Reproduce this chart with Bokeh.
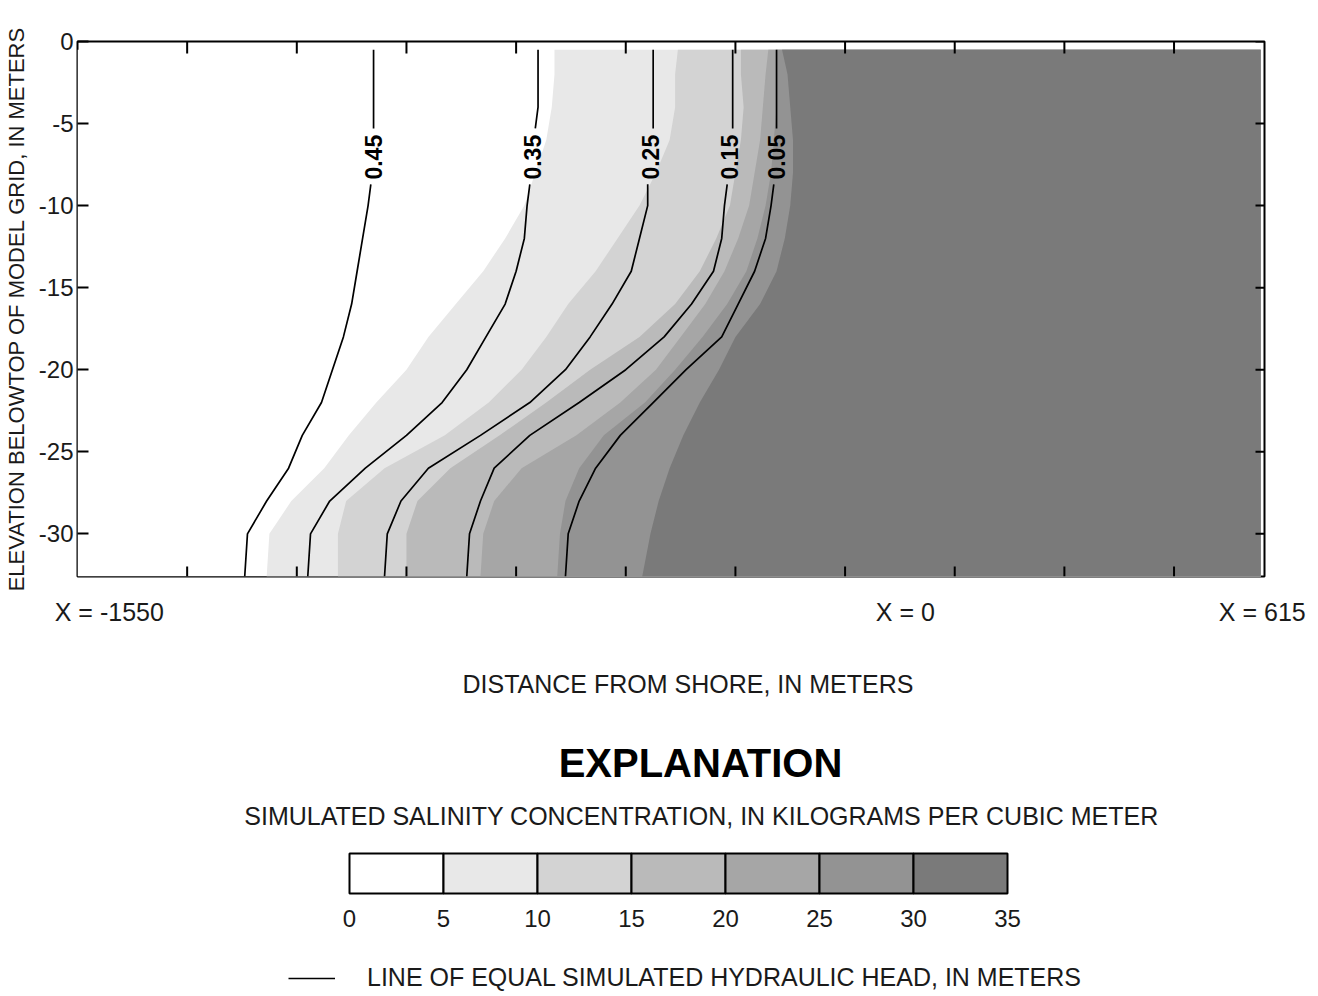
import numpy as np
from bokeh.plotting import figure
from bokeh.models import Range1d, LinearAxis, FixedTicker, Label, Legend, LegendItem, Title
from bokeh.layouts import column
from bokeh.embed import file_html
from bokeh.resources import INLINE
from bokeh.core.properties import value

# ---------------- data ----------------
# depth below top of model grid (m) at which salinity-band boundaries were read
depth = [0.5, 2, 4, 6, 8, 10, 12, 14, 16, 18, 20, 22, 24, 26, 28, 30, 32.6]
# x position (m from shore) of salinity boundaries 5,10,...,30 kg/m3
b5 = [-680, -680, -685, -695, -715, -735, -770, -810, -860, -910, -950, -1005, -1055, -1100, -1160, -1200, -1205]
b10 = [-455, -460, -460, -470, -495, -525, -565, -605, -655, -695, -740, -800, -880, -990, -1060, -1075, -1075]
b15 = [-340, -340, -335, -340, -350, -360, -385, -415, -460, -525, -615, -695, -780, -870, -930, -950, -950]
b20 = [-290, -295, -300, -305, -315, -325, -345, -370, -405, -450, -495, -560, -640, -740, -790, -810, -815]
b25 = [-275, -275, -275, -280, -285, -295, -310, -330, -365, -410, -460, -515, -590, -635, -660, -670, -675]
b30 = [-265, -255, -250, -245, -245, -250, -260, -275, -305, -350, -380, -415, -445, -470, -490, -505, -520]

# hydraulic head contours (m): x at head_depth; gap for label between 5.3 and 8.7 m
head_depth = [0.5, 2, 4, 5.3, 8.7, 10, 12, 14, 16, 18, 20, 22, 24, 26, 28, 30, 32.6]
head_levels = ["0.45", "0.35", "0.25", "0.15", "0.05"]
h45 = [-1010, -1010, -1010, -1010, -1015, -1020, -1030, -1040, -1050, -1065, -1085, -1105, -1140, -1165, -1205, -1240, -1245]
h35 = [-710, -710, -710, -715, -725, -730, -735, -750, -770, -805, -840, -885, -950, -1025, -1090, -1125, -1130]
h25 = [-500, -500, -500, -500, -510, -510, -525, -540, -575, -615, -660, -725, -815, -910, -960, -985, -990]
h15 = [-355, -355, -355, -355, -365, -370, -375, -390, -430, -480, -550, -635, -725, -790, -815, -835, -840]
h05 = [-275, -275, -275, -275, -280, -285, -295, -315, -345, -375, -440, -500, -560, -605, -635, -655, -660]
label_x = [-1010, -720, -505, -360, -275]
label_depth = 7.05

sal_bins = [0, 5, 10, 15, 20, 25, 30, 35]
sal_colors = ["#ffffff", "#e8e8e8", "#d3d3d3", "#bababa", "#a6a6a6", "#939393", "#7a7a7a"]

x_left, x_right = -1550, 615
grid_right = 608
depth_bottom = 32.6
x_ticks = [-1350, -1150, -950, -750, -550, -350, -150, 50, 250, 450]
y_ticks = [0, -5, -10, -15, -20, -25, -30]
x_marks = [-1550, 0, 615]

FONT = "Liberation Sans"
TXT = "#1a1a1a"

# ---------------- main figure ----------------
FL, FW, FR = 77, 1187, 54
FT, FH, FB = 41, 535, 161
p = figure(frame_width=FW, frame_height=FH,
           min_border_left=FL, min_border_right=FR, min_border_top=FT, min_border_bottom=FB,
           x_range=Range1d(x_left, x_right), y_range=Range1d(-depth_bottom, 0),
           x_axis_location=None, y_axis_location=None,
           toolbar_location=None, output_backend="svg")
p.grid.visible = False
p.outline_line_color = "black"
p.outline_line_width = 2
p.background_fill_color = "white"
p.border_fill_color = "white"

ys = [-d for d in depth]
bounds = [[x_left] * len(depth), b5, b10, b15, b20, b25, b30]
for left, col in zip(bounds, sal_colors):
    p.harea(x1=left, x2=[grid_right] * len(depth), y=ys, fill_color=col)

xs_l, ys_l = [], []
for hx in (h45, h35, h25, h15, h05):
    up = [i for i, d in enumerate(head_depth) if d < label_depth]
    lo = [i for i, d in enumerate(head_depth) if d > label_depth]
    xs_l += [[hx[i] for i in up], [hx[i] for i in lo]]
    ys_l += [[-head_depth[i] for i in up], [-head_depth[i] for i in lo]]
p.multi_line(xs=xs_l, ys=ys_l, line_color="black", line_width=1.7)

p.text(x=label_x, y=[-label_depth] * len(label_x), text=head_levels, angle=np.pi / 2,
       text_align="center", text_baseline="middle", text_font=value(FONT),
       text_font_style="bold", text_font_size="23px", text_color="black")

# inward tick marks on top, bottom and right edges
p.ray(x=x_ticks, y=[0] * len(x_ticks), length=12, length_units="screen", angle=-np.pi / 2,
      line_color="black", line_width=2)
p.ray(x=x_ticks, y=[-depth_bottom] * len(x_ticks), length=10, length_units="screen", angle=np.pi / 2,
      line_color="black", line_width=2)
p.ray(x=[x_right] * len(y_ticks), y=y_ticks, length=9, length_units="screen", angle=np.pi,
      line_color="black", line_width=2)

yl = LinearAxis(ticker=FixedTicker(ticks=y_ticks),
                major_label_overrides={t: str(t) for t in y_ticks})
yl.major_tick_in = 11
yl.major_tick_out = 0
yl.major_tick_line_width = 2
yl.major_tick_line_color = "black"
yl.minor_tick_line_color = None
yl.axis_line_color = None
yl.axis_label = "ELEVATION BELOWTOP OF MODEL GRID, IN METERS"
yl.axis_label_text_font = FONT
yl.axis_label_text_font_size = "22px"
yl.axis_label_text_font_style = "normal"
yl.axis_label_text_color = TXT
yl.axis_label_standoff = 7
yl.major_label_standoff = 4
yl.major_label_text_font = FONT
yl.major_label_text_font_size = "24px"
yl.major_label_text_color = TXT
p.add_layout(yl, "left")

# "X = ..." end/shore labels, nudged (in pixels) to where the reference prints them
m_per_px = (x_right - x_left) / FW
label_nudge_px = [32, -22, -2]
mark_pos = [round(m + n * m_per_px) for m, n in zip(x_marks, label_nudge_px)]
xb = LinearAxis(ticker=FixedTicker(ticks=mark_pos),
                major_label_overrides={pos: f"X = {m}" for pos, m in zip(mark_pos, x_marks)})
xb.major_tick_in = 0
xb.major_tick_out = 0
xb.major_tick_line_color = None
xb.minor_tick_line_color = None
xb.axis_line_color = None
xb.major_label_standoff = 21
xb.major_label_text_font = FONT
xb.major_label_text_font_size = "25px"
xb.major_label_text_color = TXT
p.add_layout(xb, "below")

xt = Title(text="DISTANCE FROM SHORE, IN METERS", align="left", offset=462 - FL,
           text_font=FONT, text_font_size="25px", text_font_style="normal",
           text_color=TXT, standoff=79)
p.add_layout(xt, "below")

# ---------------- explanation figure ----------------
B_TOP = FT + FH + FB          # page y where the explanation panel starts
H2 = 996 - B_TOP
cb_left_px, cb_right_px = 349, 1007
scale = (cb_right_px - cb_left_px) / (sal_bins[-1] - sal_bins[0])
xs0 = sal_bins[0] - (cb_left_px - FL) / scale
q = figure(frame_width=FW, frame_height=H2, min_border_left=FL, min_border_right=FR,
           min_border_top=0, min_border_bottom=0,
           x_range=Range1d(xs0, xs0 + FW / scale), y_range=Range1d(H2, 0),
           x_axis_location=None, y_axis_location=None,
           toolbar_location=None, output_backend="svg")
q.grid.visible = False
q.outline_line_color = None
q.quad(left=sal_bins[:-1], right=sal_bins[1:], top=853 - B_TOP, bottom=893 - B_TOP,
       fill_color=sal_colors, line_color="black", line_width=2)
q.text(x=sal_bins, y=[918 - B_TOP] * len(sal_bins), text=[str(b) for b in sal_bins],
       text_align="center", text_baseline="middle", text_font=value(FONT),
       text_font_size="24px", text_color=TXT)
q.add_layout(Label(x=700 - FL, y=996 - 762, x_units="screen", y_units="screen", text="EXPLANATION",
                   text_align="center", text_baseline="middle", text_font=FONT,
                   text_font_style="bold", text_font_size="40px", text_color="black"))
q.add_layout(Label(x=701 - FL, y=996 - 815, x_units="screen", y_units="screen",
                   text="SIMULATED SALINITY CONCENTRATION, IN KILOGRAMS PER CUBIC METER",
                   text_align="center", text_baseline="middle", text_font=FONT,
                   text_font_size="25px", text_color=TXT))
r = q.line(x=[float("nan")], y=[float("nan")], line_color="black", line_width=1.7)
leg = Legend(items=[LegendItem(label="LINE OF EQUAL SIMULATED HYDRAULIC HEAD, IN METERS", renderers=[r], index=0)],
             location=(288 - FL, 4), glyph_width=47, glyph_height=20, label_standoff=32,
             padding=0, margin=0, spacing=0, border_line_color=None, background_fill_alpha=0,
             label_text_font=FONT, label_text_font_size="25px", label_text_color=TXT,
             label_height=26, label_text_baseline="middle")
q.add_layout(leg)

layout = column(p, q, spacing=0)
open("out.html", "w").write(file_html(layout, INLINE))
